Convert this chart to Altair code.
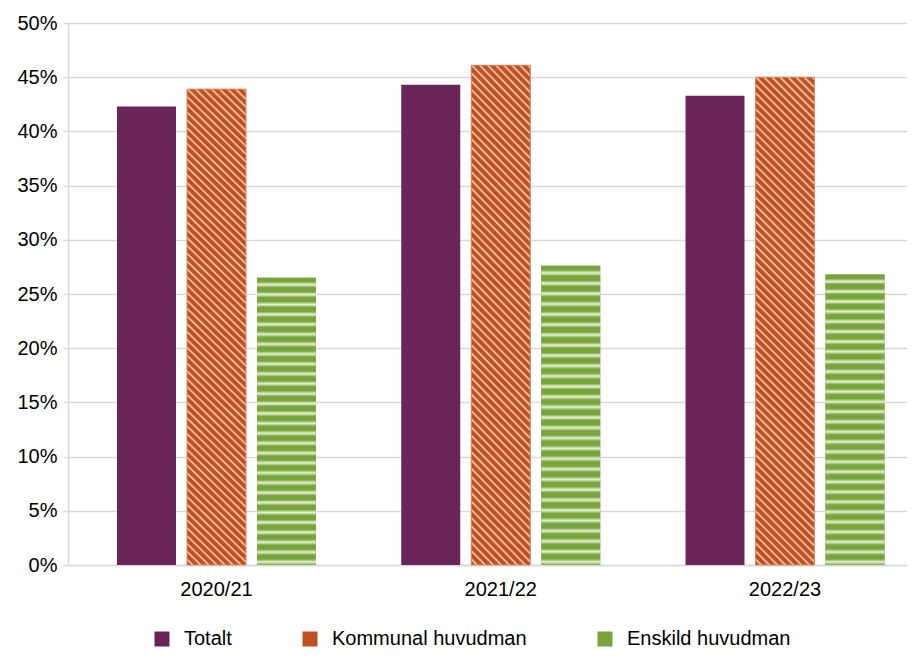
import altair as alt
import pandas as pd

# ---- data ----
years = ["2020/21", "2021/22", "2022/23"]
series = ["Totalt", "Kommunal huvudman", "Enskild huvudman"]
totalt = [0.423, 0.443, 0.433]
kommunal = [0.439, 0.461, 0.450]
enskild = [0.265, 0.276, 0.268]
y_ticks = [0, 0.05, 0.10, 0.15, 0.20, 0.25, 0.30, 0.35, 0.40, 0.45, 0.50]

colors = ["#6A2558", "#C0501F", "#78A53B"]

rows = []
for name, vals in zip(series, [totalt, kommunal, enskild]):
    for yr, v in zip(years, vals):
        rows.append({"year": yr, "series": name, "value": v})
df = pd.DataFrame(rows)

W, H = 839, 542
FONT = "Liberation Sans"
FS = 20
BAR_W = 59


def stripe_stops(base, light, periods, lo=0.45, peak=0.72):
    stops = []
    P = 1.0 / periods
    for k in range(periods):
        o = k * P
        stops.append({"offset": round(o, 6), "color": base})
        stops.append({"offset": round(o + lo * P, 6), "color": base})
        stops.append({"offset": round(o + peak * P, 6), "color": light})
    stops.append({"offset": 1, "color": base})
    return stops


def diag_gradient(base, light, mean_val):
    h = mean_val / 0.5 * H
    r = BAR_W / h
    s = (r + 1) / (r * r + 1)
    length = (BAR_W + h) / 2 ** 0.5
    periods = int(round(length / (8 / 2 ** 0.5)))
    return {
        "gradient": "linear",
        "x1": 0, "y1": 1, "x2": round(s * r, 5), "y2": round(1 - s, 5),
        "stops": stripe_stops(base, light, periods),
    }


def horiz_gradient(base, light, mean_val):
    h = mean_val / 0.5 * H
    periods = int(round(h / 10))
    return {
        "gradient": "linear",
        "x1": 0, "y1": 0, "x2": 0, "y2": 1,
        "stops": stripe_stops(base, light, periods, lo=0.4, peak=0.7),
    }


kom_grad = diag_gradient("#C0501F", "#F4D2BE", sum(kommunal) / 3)
ens_grad = horiz_gradient("#78A53B", "#E6F0D6", sum(enskild) / 3)

x_enc = alt.X(
    "year:N",
    sort=years,
    scale=alt.Scale(paddingInner=0.2612, paddingOuter=0.1064, align=0.719),
    axis=alt.Axis(
        title=None, ticks=False, labelAngle=0, labelPadding=14,
        domainColor="#D9D9D9", domainWidth=1.5, grid=False,
        labelFont=FONT, labelFontSize=FS, labelColor="black",
    ),
)
xo_enc = alt.XOffset(
    "series:N",
    sort=series,
    scale=alt.Scale(domain=series, paddingInner=0.157, paddingOuter=0.0786),
)
y_enc = alt.Y(
    "value:Q",
    scale=alt.Scale(domain=[0, 0.5], nice=False),
    axis=alt.Axis(
        title=None, format=".0%", values=y_ticks, tickSize=5,
        tickColor="#D9D9D9", domainColor="#D9D9D9", gridColor="#D9D9D9",
        gridWidth=1.5, domainWidth=1.5, tickWidth=1.5,
        labelFont=FONT, labelFontSize=FS, labelColor="black", labelPadding=6,
    ),
)

base = alt.Chart(df).mark_bar().encode(
    x=x_enc,
    xOffset=xo_enc,
    y=y_enc,
    color=alt.Color(
        "series:N",
        sort=series,
        scale=alt.Scale(domain=series, range=colors),
        legend=alt.Legend(
            title=None, orient="none", legendX=84, legendY=606,
            direction="horizontal", symbolType="square", symbolSize=225,
            symbolStrokeWidth=0, labelFont=FONT, labelFontSize=FS,
            labelColor="black", columnPadding=68, labelOffset=12, padding=0,
            labelLimit=0,
        ),
    ),
)

kom_layer = alt.Chart(df).transform_filter(
    alt.datum.series == "Kommunal huvudman"
).mark_bar(fill=kom_grad, stroke="#D98A66", strokeWidth=1).encode(
    x=x_enc, xOffset=xo_enc, y=y_enc
)

ens_layer = alt.Chart(df).transform_filter(
    alt.datum.series == "Enskild huvudman"
).mark_bar(fill=ens_grad).encode(
    x=x_enc, xOffset=xo_enc, y=y_enc
)

chart = alt.layer(base, kom_layer, ens_layer).properties(
    width=W,
    height=H,
    autosize=alt.AutoSizeParams(type="none"),
    padding={"left": 60, "top": 15, "right": 0, "bottom": 90},
).configure_view(stroke=None)

chart.save("out.html", embed_options={"renderer": "svg", "actions": False})
